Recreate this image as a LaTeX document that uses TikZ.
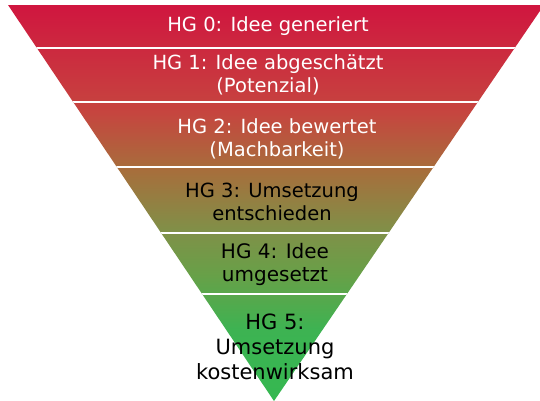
\documentclass[tikz,border=0pt]{standalone}
\usepackage{fontspec}
\setmainfont{DejaVu Sans}
\definecolor{hgred}{HTML}{D0163F}
\definecolor{hgrust}{HTML}{C6453F}
\definecolor{hgbrown}{HTML}{A66F3C}
\definecolor{hgolive}{HTML}{809048}
\definecolor{hgleaf}{HTML}{68A048}
\definecolor{hggreen}{HTML}{3DB352}
\definecolor{hgmint}{HTML}{35B851}
% stops between 25bp and 75bp, the part tikz stretches over the path
\pgfdeclareverticalshading{funnel}{100bp}{%
  color(0bp)=(hgmint); color(25bp)=(hgmint); color(34bp)=(hggreen);
  color(41bp)=(hgleaf); color(46.5bp)=(hgolive); color(54bp)=(hgbrown);
  color(61.5bp)=(hgrust); color(75bp)=(hgred); color(100bp)=(hgred)}
\tikzset{
  sep/.style={white, line width=2pt},
  hgw/.style={align=center, text=white, inner sep=0pt,
    font=\fontsize{19.5}{23}\selectfont},
  hgb/.style={hgw, text=black}
}
\begin{document}
\begin{tikzpicture}[x=1pt,y=-1pt]
    \useasboundingbox (0,0) rectangle (540,400);
    \clip (0,0) rectangle (540,400);

    \begin{scope}
      \clip (8,5) -- (544,5) -- (274,401) -- cycle;
      \shade[shading=funnel] (8,5) rectangle (544,401);
      \foreach \y in {47.5,102,167,233,294}
        \draw[sep] (0,\y) -- (540,\y);
    \end{scope}

    \node[hgw] (hg0) at (268,26) {HG 0: Idee generiert};
    \node[hgw] (hg1) at (268,75) {HG 1: Idee abgeschätzt\\(Potenzial)};
    \node[hgw] (hg2) at (277,139) {HG 2: Idee bewertet\\(Machbarkeit)};
    \node[hgb] (hg3) at (272,202) {HG 3: Umsetzung\\entschieden};
    \node[hgb, font=\fontsize{20}{23}\selectfont] (hg4) at (275,264) {HG 4: Idee\\umgesetzt};
    \node[hgb, font=\fontsize{21}{25}\selectfont] (hg5) at (275,347) {HG 5:\\Umsetzung\\kostenwirksam};
  \end{tikzpicture}
\end{document}
